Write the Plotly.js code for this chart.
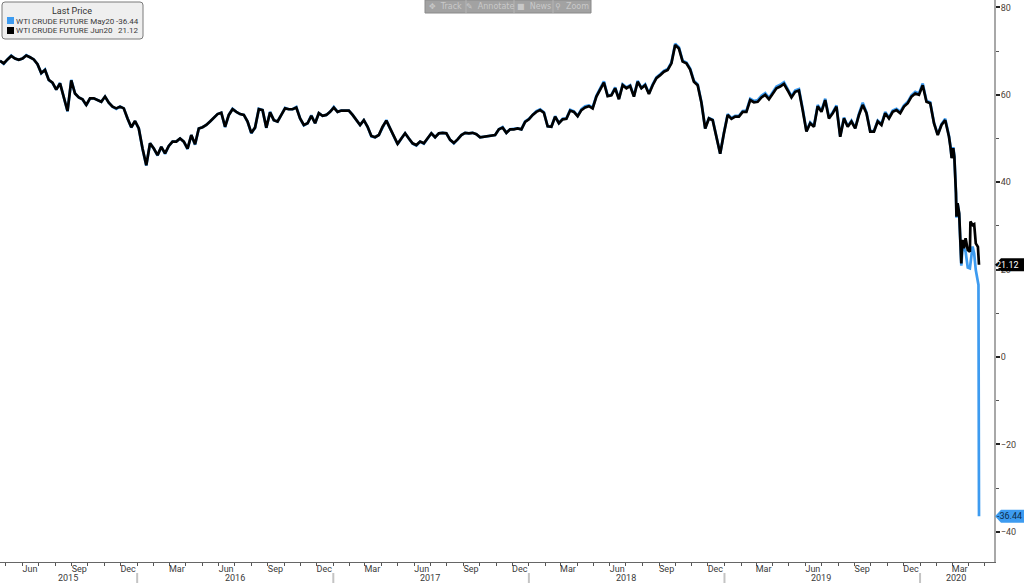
<!DOCTYPE html>
<html><head><meta charset="utf-8">
<script src="https://cdn.plot.ly/plotly-3.0.1.min.js"></script>
<style>html,body{margin:0;padding:0;background:#fff}#c{width:1024px;height:583px}</style>
</head><body><div id="c"></div>
<script>
// weekly closes from 2015-04-20
const weeklyJun20 = [
67.8,67.2,68.1,68.9,68.3,68.0,68.3,69.0,68.6,68.1,
67.0,65.0,65.7,63.4,62.8,61.2,62.6,59.6,56.3,63.3,
60.3,59.4,59.0,57.7,59.2,59.2,58.8,58.4,59.6,58.2,
57.3,56.9,57.3,56.9,54.6,52.6,54.0,52.3,47.7,43.9,
48.9,47.7,46.2,48.1,46.6,48.3,49.3,49.3,50.0,49.3,
47.7,50.8,48.7,52.3,52.6,53.1,53.9,54.8,55.6,55.9,
52.7,55.4,56.7,56.1,55.6,55.4,53.9,51.3,52.5,56.7,
56.5,52.5,56.0,54.2,53.9,55.4,56.9,56.7,56.7,57.1,
54.6,53.1,53.5,55.2,53.5,55.8,55.2,55.4,56.1,57.1,
56.1,56.4,56.4,56.4,55.4,54.2,53.1,54.2,52.7,50.6,
50.3,50.8,52.7,54.1,52.3,50.4,48.8,50.0,51.2,50.0,
48.9,48.5,49.3,48.9,50.0,51.2,50.3,51.2,51.3,51.2,
49.7,49.0,49.8,50.8,51.3,51.2,51.3,51.0,50.3,50.4,
50.6,50.6,50.8,52.1,52.5,51.3,52.1,52.1,52.3,52.1,
53.8,54.4,55.4,56.1,56.5,55.9,52.8,52.7,55.0,53.5,
54.4,54.5,56.4,56.1,55.1,56.5,57.1,57.4,56.9,59.6,
61.3,62.8,59.7,59.9,61.5,59.0,62.2,61.5,62.0,59.6,
63.0,61.5,62.2,60.2,62.2,63.8,64.5,65.3,65.7,67.2,
71.4,70.6,67.6,67.2,65.8,63.0,62.2,58.2,52.3,54.6,
54.2,50.4,46.5,51.2,55.4,54.5,55.0,55.0,56.1,56.1,
58.8,58.3,58.4,59.4,60.0,59.0,60.3,61.5,61.9,62.5,
61.0,59.4,60.7,61.0,56.5,51.6,53.5,52.7,57.4,56.1,
58.8,54.6,55.8,57.3,50.4,54.6,52.7,53.9,52.3,55.4,
57.7,55.8,51.6,51.6,53.9,53.1,55.8,54.6,56.1,56.5,
55.8,57.3,58.1,59.6,60.3,60.0,62.2,58.4,58.1,53.5,
50.8,53.1,54.2];
const weeklyMay20 = [
67.8,67.1,68.1,69.0,68.3,68.0,68.3,69.1,68.6,68.1,
67.0,64.9,65.8,63.4,62.7,61.2,62.7,59.6,56.2,63.4,
60.3,59.4,59.0,57.6,59.2,59.2,58.8,58.4,59.6,58.2,
57.3,56.8,57.3,56.9,54.6,52.5,54.0,52.3,47.6,43.8,
48.9,47.7,46.1,48.1,46.5,48.3,49.3,49.3,50.0,49.3,
47.6,50.8,48.6,52.3,52.6,53.1,53.9,54.8,55.6,55.9,
52.6,55.4,56.8,56.1,55.6,55.4,53.9,51.2,52.5,56.8,
56.5,52.4,56.1,54.2,53.9,55.4,57.0,56.7,56.7,57.2,
54.6,53.0,53.5,55.3,53.5,55.8,55.2,55.4,56.1,57.2,
56.1,56.4,56.4,56.4,55.4,54.2,53.1,54.2,52.7,50.5,
50.3,50.8,52.7,54.2,52.3,50.4,48.7,50.0,51.2,50.0,
48.8,48.4,49.3,48.8,50.0,51.2,50.3,51.2,51.3,51.2,
49.7,48.9,49.8,50.8,51.3,51.2,51.3,51.0,50.3,50.4,
50.6,50.6,50.8,52.1,52.6,51.3,52.1,52.2,52.3,52.1,
53.9,54.5,55.5,56.3,56.7,56.0,52.8,52.7,55.1,53.5,
54.5,54.6,56.6,56.2,55.2,56.7,57.4,57.6,57.1,59.8,
61.5,63.1,59.8,60.0,61.7,59.1,62.4,61.7,62.2,59.7,
63.2,61.6,62.4,60.3,62.4,64.0,64.7,65.5,65.9,67.4,
71.7,70.9,67.8,67.4,66.0,63.2,62.4,58.3,52.3,54.7,
54.3,50.4,46.5,51.3,55.6,54.7,55.2,55.2,56.3,56.4,
59.1,58.6,58.8,59.8,60.4,59.3,60.7,61.9,62.3,62.9,
61.3,59.7,61.0,61.3,56.8,51.7,53.7,52.8,57.7,56.3,
59.1,54.8,56.0,57.6,50.5,54.8,52.8,54.1,52.4,55.7,
58.2,56.0,51.7,51.7,54.1,53.3,56.1,54.8,56.4,56.8,
56.1,57.6,58.4,59.9,60.7,60.3,62.6,58.6,58.3,53.6,
50.9,53.3,54.5];
// daily tail of the Jun20 contract
const tailDatesJun = ['2020-02-24','2020-02-27','2020-02-29','2020-03-03','2020-03-05','2020-03-08','2020-03-09','2020-03-11','2020-03-14','2020-03-18','2020-03-20','2020-03-23','2020-03-26','2020-03-30','2020-04-03','2020-04-04','2020-04-08','2020-04-11','2020-04-14','2020-04-18','2020-04-20'];
const tailJun20 = [50.4,47.8,45.5,47.8,45.8,37.5,32.1,35.2,32.9,21.4,26.8,24.9,27.2,24.5,24.1,31.0,30.2,30.4,26.0,25.2,21.12];
// daily tail of the May20 contract
const tailDatesMay = ['2020-02-24','2020-02-27','2020-02-29','2020-03-03','2020-03-05','2020-03-08','2020-03-09','2020-03-11','2020-03-14','2020-03-18','2020-03-20','2020-03-23','2020-03-26','2020-03-30','2020-04-03','2020-04-08','2020-04-11','2020-04-14','2020-04-17','2020-04-19','2020-04-20'];
const tailMay20 = [50.6,48.0,45.6,48.0,46.0,37.7,31.9,35.2,32.7,20.9,24.5,24.9,24.1,20.5,20.3,25.3,23.7,19.9,18.3,16.5,-36.44];

const monthTickDates = ['2015-06-15','2015-09-15','2015-12-15','2016-03-15','2016-06-15','2016-09-15','2016-12-15','2017-03-15','2017-06-15','2017-09-15','2017-12-15','2018-03-15','2018-06-15','2018-09-15','2018-12-15','2019-03-15','2019-06-15','2019-09-15','2019-12-15','2020-03-15'];
const monthTickLabels = ['Jun','Sep','Dec','Mar','Jun','Sep','Dec','Mar','Jun','Sep','Dec','Mar','Jun','Sep','Dec','Mar','Jun','Sep','Dec','Mar'];
const yearLabels = ['2015','2016','2017','2018','2019','2020'];
const yearLabelDates = ['2015-08-24','2016-07-01','2017-07-01','2018-07-01','2019-07-01','2020-03-09'];
const yearStarts = ['2016-01-01','2017-01-01','2018-01-01','2019-01-01','2020-01-01'];
const yTicks = [80,60,40,20,0,-20,-40];
const toolbarItems = ['\u2725  Track','\u270E  Annotate','\u25A0  News','\u26B2  Zoom'];
const toolbarCenters = [445.5,490,533.5,572];
const toolbarSeps = [466,514,553];
const legendNames = ['WTI CRUDE FUTURE May20','WTI CRUDE FUTURE Jun20'];
const legendValues = ['-36.44','21.12'];
const lastMay = -36.44, lastJun = 21.12;
const BLUE='#3d9bf0', BLACK='#000000';

const DAY=864e5, START=Date.UTC(2015,3,20);
const weekDates = weeklyJun20.map((_,i)=>new Date(START+i*7*DAY).toISOString().slice(0,10));

const FONT='Roboto, "Noto Sans", sans-serif';
const PW=994, PH=562;
const fx=x=>x/PW, fy=y=>1-y/PH;

const shapes=[];
// legend box
const r=3,bx0=2,bx1=143,by0=2,by1=39;
shapes.push({type:'path',xref:'paper',yref:'paper',
  path:`M${fx(bx0+r)},${fy(by0)} L${fx(bx1-r)},${fy(by0)} Q${fx(bx1)},${fy(by0)} ${fx(bx1)},${fy(by0+r)} L${fx(bx1)},${fy(by1-r)} Q${fx(bx1)},${fy(by1)} ${fx(bx1-r)},${fy(by1)} L${fx(bx0+r)},${fy(by1)} Q${fx(bx0)},${fy(by1)} ${fx(bx0)},${fy(by1-r)} L${fx(bx0)},${fy(by0+r)} Q${fx(bx0)},${fy(by0)} ${fx(bx0+r)},${fy(by0)} Z`,
  fillcolor:'#efefef',line:{color:'#7a7a7a',width:1},layer:'above'});
[[BLUE,17],[BLACK,27]].forEach(([c,y])=>shapes.push({type:'rect',xref:'paper',yref:'paper',x0:fx(7),x1:fx(14),y0:fy(y),y1:fy(y+7),fillcolor:c,line:{width:0},layer:'above'}));
// toolbar
shapes.push({type:'rect',xref:'paper',yref:'paper',x0:fx(425),x1:fx(591),y0:fy(0),y1:fy(13),fillcolor:'#a2a2a2',line:{color:'#8a8a8a',width:1},layer:'above'});
toolbarSeps.forEach(x=>shapes.push({type:'line',xref:'paper',yref:'paper',x0:fx(x),x1:fx(x),y0:fy(0),y1:fy(13),line:{color:'#b4b4b4',width:1},layer:'above'}));
// year separators
yearStarts.forEach(d=>shapes.push({type:'line',xref:'x',yref:'paper',x0:d,x1:d,y0:fy(573),y1:fy(583),line:{color:'#c4c4c4',width:2},layer:'above'}));
// value tags
const tag=(v,c)=>({type:'path',xref:'paper',yref:'y',xsizemode:'pixel',ysizemode:'pixel',xanchor:1,yanchor:v,
  path:'M1,0 L7,-6.5 L30,-6.5 L30,6.5 L7,6.5 Z',fillcolor:c,line:{width:0},layer:'above'});
shapes.push(tag(lastMay,BLUE),tag(lastJun,BLACK));

const annotations=[];
const txt=(x,y,t,o={})=>annotations.push(Object.assign({xref:'paper',yref:'paper',x:fx(x),y:fy(y),text:t,showarrow:false,xanchor:'left',yanchor:'middle',font:{family:FONT,size:8,color:'#3a3a3a'},borderpad:0,borderwidth:0,captureevents:false},o));
txt(72,11,'Last Price',{xanchor:'center',font:{family:FONT,size:9,color:'#333'}});
legendNames.forEach((n,i)=>{
  txt(16,21+10*i,n);
  txt(139,21+10*i,legendValues[i],{xanchor:'right'});
});
toolbarItems.forEach((t,i)=>txt(toolbarCenters[i],6.5,t,{xanchor:'center',font:{family:'"DejaVu Sans", sans-serif',size:8,color:'#c9c9c9'}}));
yearLabels.forEach((t,i)=>annotations.push({xref:'x',yref:'paper',x:yearLabelDates[i],y:fy(577.5),text:t,showarrow:false,xanchor:'center',yanchor:'middle',borderpad:0,font:{family:FONT,size:9,color:'#3a3a3a'}}));
annotations.push({xref:'paper',yref:'y',x:fx(1023),xanchor:'right',yanchor:'middle',y:lastMay,text:lastMay.toFixed(2),showarrow:false,borderpad:0,font:{family:FONT,size:9,color:'#0b2b4a'}});
annotations.push({xref:'paper',yref:'y',x:fx(1020),xanchor:'right',yanchor:'middle',y:lastJun,text:lastJun.toFixed(2),showarrow:false,borderpad:0,font:{family:FONT,size:9,color:'#ffffff'}});

const traces=[
 {type:'scatter',mode:'lines',name:legendNames[0],x:weekDates.concat(tailDatesMay),y:weeklyMay20.concat(tailMay20),line:{color:BLUE,width:2.7,shape:'linear'},cliponaxis:false},
 {type:'scatter',mode:'lines',name:legendNames[1],x:weekDates.concat(tailDatesJun),y:weeklyJun20.concat(tailJun20),line:{color:BLACK,width:2.7,shape:'linear'},cliponaxis:false}
];
const layout={
 width:1024,height:583,margin:{l:0,r:30,t:0,b:21,pad:0},
 paper_bgcolor:'#fff',plot_bgcolor:'#fff',showlegend:false,
 xaxis:{type:'date',range:['2015-04-20','2020-05-18'],showgrid:false,zeroline:false,showline:true,linecolor:'#666',linewidth:1,
   tickmode:'array',tickvals:monthTickDates,ticktext:monthTickLabels,ticks:'',ticklen:0,tickangle:0,ticklabelstandoff:-2,
   tickfont:{family:FONT,size:9,color:'#3a3a3a'},
   minor:{ticks:'outside',dtick:'M1',tick0:'2015-05-01',ticklen:3,tickwidth:1,tickcolor:'#555',showgrid:false}},
 yaxis:{side:'right',range:[-46.9,81.7],showgrid:false,zeroline:false,showline:true,linecolor:'#a8a8a8',linewidth:2,
   tickmode:'array',tickvals:yTicks,ticks:'outside',ticklen:4,tickwidth:2,tickcolor:'#222',ticklabelstandoff:-1,
   tickfont:{family:FONT,size:9,color:'#4b4136'},
   minor:{ticks:'outside',tickvals:[70,50,30,10,-10,-30],ticklen:3,tickwidth:1,tickcolor:'#555',showgrid:false}},
 shapes,annotations
};
Plotly.newPlot('c',traces,layout,{displayModeBar:false,staticPlot:true});
</script></body></html>
